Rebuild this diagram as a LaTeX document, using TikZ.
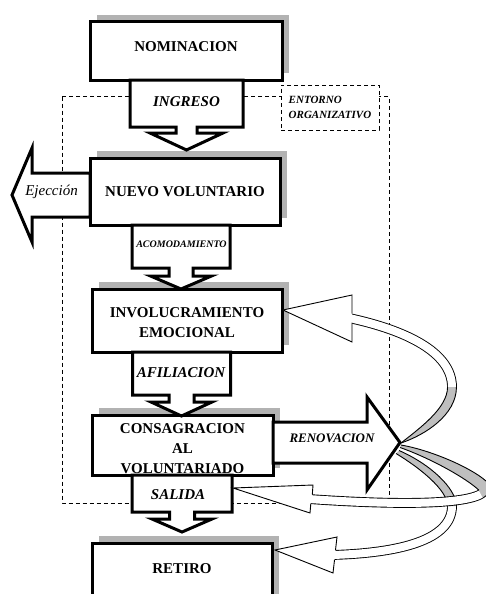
\documentclass[tikz,border=0pt]{standalone}
\usepackage{fontspec}
\setmainfont{Liberation Serif}
\usetikzlibrary{calc,shadows}
\tikzset{
 box/.style={draw, line width=3pt, fill=white, align=center, inner sep=0pt, outer sep=0pt,
   font=\bfseries\fontsize{15}{20}\selectfont,
   drop shadow={shadow xshift=7pt, shadow yshift=7pt, fill=black!30, opacity=1}},
 blockarrow/.style={draw, line width=3pt, fill=white, line join=miter, miter limit=20},
 lbl/.style={font=\bfseries\itshape\fontsize{15}{18}\selectfont, inner sep=0pt},
 ribbon/.style={draw=black, line width=0.9pt, double=white, double distance=8pt},
 ribbonback/.style={fill=black!25},
 ribbonedge/.style={draw, line width=0.9pt},
 headline/.style={draw, line width=0.9pt, line join=miter},
 region/.style={draw, line width=0.8pt, dash pattern=on 4pt off 3pt},
}
\newcommand\downblock[8]{%
  \draw[blockarrow] ($(#1.south)+(#2,0)$) ++(-#3,0) -- ++(0,#4) -- ++({#3-#5},0) -- ++(0,#6)
   -- ++({#5-#7},0) -- ++(#7,#8) -- ++(#7,-#8) -- ++({#5-#7},0) -- ++(0,-#6)
   -- ++({#3-#5},0) -- ++(0,-#4) -- cycle;}
\begin{document}
\begin{tikzpicture}[x=1pt,y=-1pt]
\useasboundingbox (0,0) rectangle (486,594);
\clip (0,0) rectangle (486,594);
% organisational environment
\draw[region] (62,96.5) rectangle (389,503);
\node[region, fill=white, minimum width=98pt, minimum height=45pt, inner sep=0pt, align=left,
  font=\bfseries\itshape\fontsize{11}{15}\selectfont] (ent) at (330,107.5) {ENTORNO\\ORGANIZATIVO};
% boxes
\node[box, minimum width=192pt, minimum height=58pt, text depth=8pt] (nom) at (186,51) {NOMINACION};
\node[box, minimum width=190pt, minimum height=67pt] (nuevo) at (185,191.5) {NUEVO VOLUNTARIO};
\node[box, minimum width=190pt, minimum height=63pt] (inv) at (187,320.5) {\rule{0pt}{15pt}INVOLUCRAMIENTO\\EMOCIONAL};
\node[box, minimum width=181pt, minimum height=60pt] (con) at (182.5,445) {\rule{0pt}{17pt}CONSAGRACION\\AL\\VOLUNTARIADO};
\node[box, minimum width=180pt, minimum height=70pt, text height=10pt, text depth=20pt] (ret) at (182,578) {RETIRO};
% stage arrows
\downblock{nom}{0.5}{56.5}{47}{10.5}{6}{36.5}{17}
\downblock{nuevo}{-4}{49}{43}{12}{8}{30.5}{13}
\downblock{inv}{-5.5}{49}{43}{12.5}{7}{30.5}{14}
\downblock{con}{-0.5}{50}{37}{12.5}{7}{30}{13}
% ejection
\draw[blockarrow] ($(nuevo.west)+(0,-18.5)$) -- ++(-58,0) -- ++(0,-25) -- ++(-20,47)
   -- ++(20,47) -- ++(0,-25) -- ++(58,0) -- cycle;
% renovation
\draw[blockarrow] ($(con.east)+(0,-23)$) -- ++(94,0) -- ++(0,-25) -- ++(33,45.5)
   -- ++(-33,47.5) -- ++(0,-27) -- ++(-94,0) -- cycle;
\coordinate (rtip) at ($(con.east)+(127,-2.5)$);
% ribbon to RETIRO
\coordinate (h3) at ($(ret.north east)+(3,7)$);
\path[ribbon] (332,555) .. controls (400,553) and (452,540) .. (452,506);
\fill[ribbonback] (456.45,506) .. controls (456,488) and (430,464) .. ($(rtip)+(-1,8)$)
   -- ($(rtip)+(-4,11)$) .. controls (420,468) and (447.55,490) .. (447.55,506) -- cycle;
\draw[ribbonedge] (456.45,506) .. controls (456,488) and (430,464) .. ($(rtip)+(-1,8)$);
\draw[ribbonedge] (447.55,506) .. controls (447.55,490) and (420,468) .. ($(rtip)+(-4,11)$);
\fill[white] (h3) -- (337,537) -- (333,573) -- cycle;
\draw[headline] (335.5,550) -- (337,537) -- (h3) -- (333,573) -- (334.5,560);
% ribbon to SALIDA
\coordinate (h2) at (233,488);
\path[ribbon] (309,499) .. controls (380,504) and (460,506) .. (481,494);
\fill[ribbonback] (483.2,497.9) .. controls (491,493) and (492,485) .. (486,481)
   .. controls (470,467) and (430,450) .. ($(rtip)+(1,2.5)$) -- ($(rtip)+(0,5)$)
   .. controls (430,458) and (466,478) .. (478.8,490.1) -- cycle;
\draw[ribbonedge] (483.2,497.9) .. controls (491,493) and (492,485) .. (486,481)
   .. controls (470,467) and (430,450) .. ($(rtip)+(1,2.5)$);
\draw[ribbonedge] (478.8,490.1) .. controls (466,478) and (430,458) .. ($(rtip)+(0,5)$);
\fill[white] (h2) -- (313,485) -- (310,513) -- cycle;
\draw[headline] (312.3,494.5) -- (313,485) -- (h2) -- (310,513) -- (310.8,503.5);
% ribbon to INVOLUCRAMIENTO
\coordinate (h1) at ($(inv.east)+(1,-10.5)$);
\path[ribbon] (349,318) .. controls (405,330) and (452,352) .. (452,387);
\fill[ribbonback] (456.45,387) .. controls (456.45,415) and (425,435) .. ($(rtip)+(1,0.5)$)
   .. controls (420,428) and (447.55,408) .. (447.55,387) -- cycle;
\draw[ribbonedge] (456.45,387) .. controls (456.45,415) and (425,435) .. ($(rtip)+(1,0.5)$);
\draw[ribbonedge] (447.55,387) .. controls (447.55,408) and (420,428) .. ($(rtip)+(1,0.5)$);
\fill[white] (h1) -- (352,295) -- (352,342) -- cycle;
\draw[headline] (352,313.5) -- (352,295) -- (h1) -- (352,342) -- (352,322.5);
% labels
\node[lbl] (l1) at (186.5,102) {INGRESO};
\node[lbl, font=\bfseries\itshape\fontsize{10}{12}\selectfont] (l2) at (181.5,244) {ACOMODAMIENTO};
\node[lbl] (l3) at (181,373) {AFILIACION};
\node[lbl] (l4) at (178,495) {SALIDA};
\node[lbl, font=\bfseries\itshape\fontsize{13}{15}\selectfont] (l5) at (332,438) {RENOVACION};
\node[inner sep=0pt, font=\itshape\fontsize{15}{18}\selectfont] (l6) at (51.5,192) {Ejección};
\end{tikzpicture}
\end{document}
